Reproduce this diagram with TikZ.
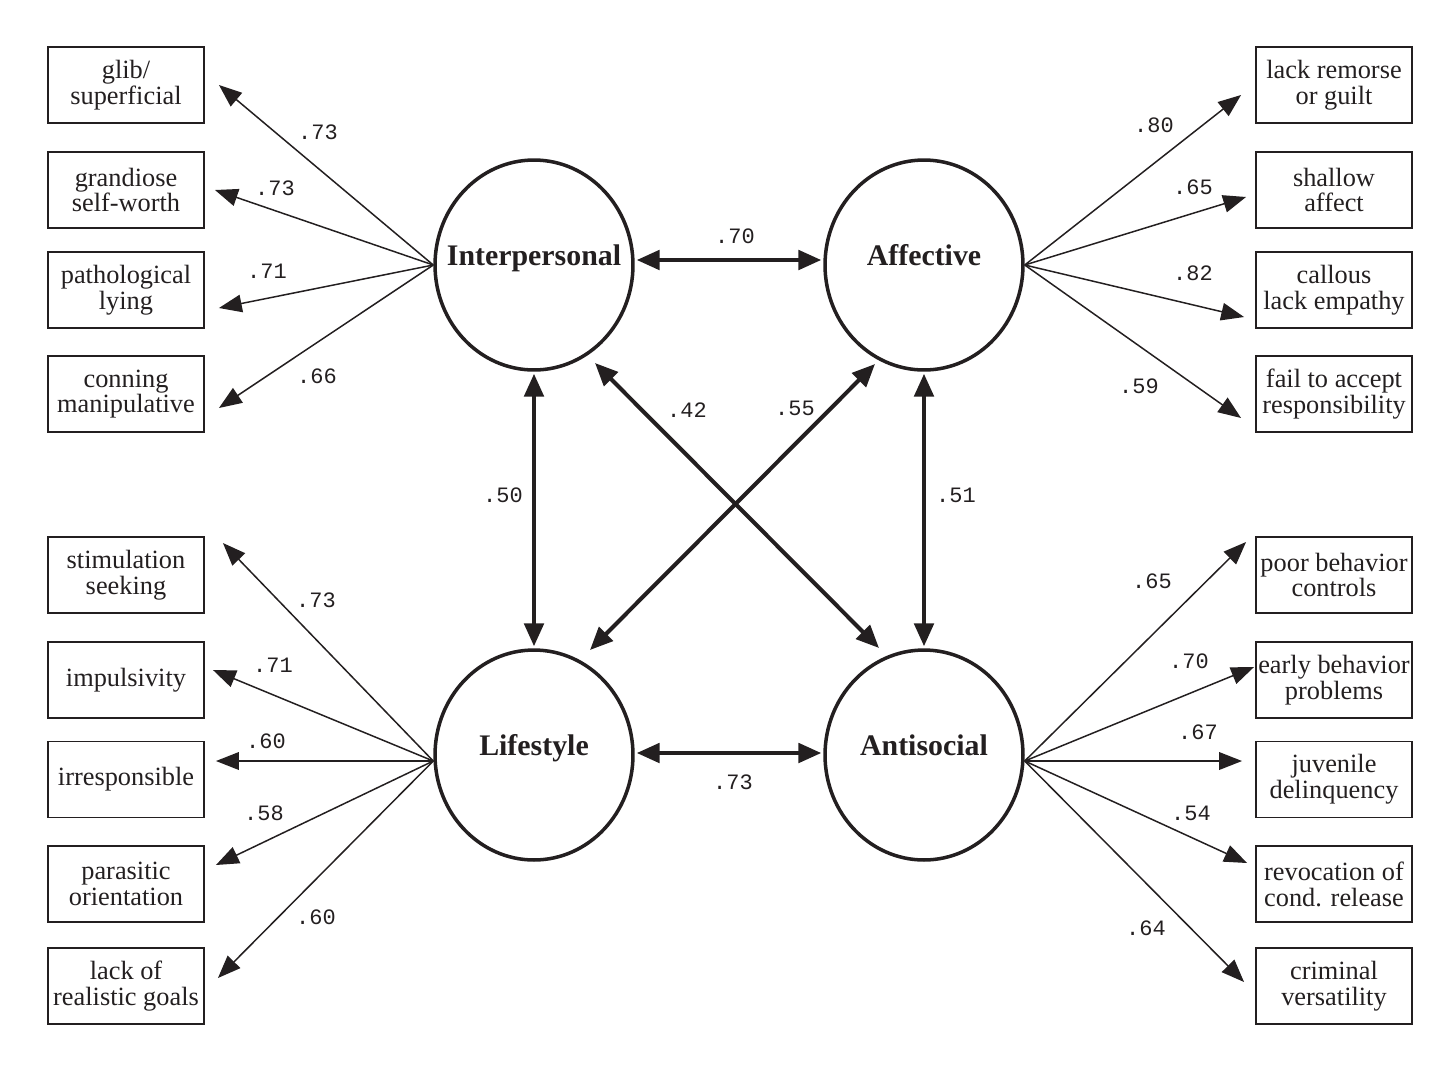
\documentclass[tikz,border=0pt]{standalone}
\usepackage{fontspec}
\setmainfont{Liberation Serif}
\newfontfamily\numfont{Liberation Mono}
\usetikzlibrary{arrows.meta,calc,shapes.geometric}
\definecolor{ink}{RGB}{35,31,32}
\begin{document}
\begin{tikzpicture}[x=0.02cm,y=-0.02cm,
  item/.style={draw=ink, line width=1.1pt, minimum width=3.12cm, minimum height=1.52cm, inner sep=0pt, align=center, font=\fontsize{15}{14.7}\selectfont, text=ink},
  factor/.style={ellipse, draw=ink, line width=2pt, minimum width=3.96cm, minimum height=4.2cm, inner sep=0pt},
  ftext/.style={font=\fontsize{17}{20}\selectfont\bfseries, text=ink, inner sep=0pt, anchor=base},
  load/.style={draw=ink, line width=0.85pt, -{Triangle[length=13pt,width=10pt]}},
  corr/.style={draw=ink, line width=2.3pt, {Triangle[length=13pt,width=11pt]}-{Triangle[length=13pt,width=11pt]}},
  coef/.style={font=\numfont\fontsize{12.5}{14}\selectfont, text=ink, inner sep=0pt}
]
\useasboundingbox (0,0) rectangle (1450,1086);

% factors
\node[factor] (I) at (534,265) {};
\node[factor] (A) at (924,265) {};
\node[factor] (L) at (534,755) {};
\node[factor] (S) at (924,755) {};
\node[ftext] (It) at (I.center) {Interpersonal};
\node[ftext] (At) at (A.center) {Affective};
\node[ftext] (Lt) at (L.center) {Lifestyle};
\node[ftext] (St) at (S.center) {Antisocial};

% left items
\node[item] (l1) at (126,85)  {glib/\\superficial};
\node[item] (l2) at (126,190) {grandiose\\self-worth};
\node[item] (l3) at (126,290) {pathological\\lying};
\node[item] (l4) at (126,394) {conning\\manipulative};
\node[item] (l5) at (126,575) {stimulation\\seeking};
\node[item] (l6) at (126,680) {impulsivity};
\node[item] (l7) at (126,779.5) {irresponsible};
\node[item] (l8) at (126,884) {parasitic\\orientation};
\node[item] (l9) at (126,986) {lack of\\realistic goals};

% right items
\node[item] (r1) at (1334,85)  {lack remorse\\or guilt};
\node[item] (r2) at (1334,190) {shallow\\affect};
\node[item] (r3) at (1334,290) {callous\\lack empathy};
\node[item] (r4) at (1334,394) {fail to accept\\responsibility};
\node[item] (r5) at (1334,575) {poor behavior\\controls};
\node[item] (r6) at (1334,680) {early behavior\\problems};
\node[item] (r7) at (1334,779.5) {juvenile\\delinquency};
\node[item] (r8) at (1334,884) {revocation of\\cond. release};
\node[item] (r9) at (1334,986) {criminal\\versatility};

% loadings: Interpersonal
\draw[load] (I.west) -- ($(l1.east)+(14,0)$);
\draw[load] (I.west) -- ($(l2.east)+(10,0)$);
\draw[load] (I.west) -- ($(l3.east)+(14,18)$);
\draw[load] (I.west) -- ($(l4.east)+(14,14)$);
% Affective
\draw[load] (A.east) -- ($(r1.west)+(-14,10)$);
\draw[load] (A.east) -- ($(r2.west)+(-9,7)$);
\draw[load] (A.east) -- ($(r3.west)+(-11,27)$);
\draw[load] (A.east) -- ($(r4.west)+(-14,24)$);
% Lifestyle
\draw[load] ($(L.west)+(0,6)$) -- ($(l5.east)+(18,-32)$);
\draw[load] ($(L.west)+(0,6)$) -- ($(l6.east)+(8,-10)$);
\draw[load] ($(L.west)+(0,6)$) -- ($(l7.east)+(11,-18.5)$);
\draw[load] ($(L.west)+(0,6)$) -- ($(l8.east)+(11,-19)$);
\draw[load] ($(L.west)+(0,6)$) -- ($(l9.east)+(13,-8)$);
% Antisocial
\draw[load] ($(S.east)+(0,6)$) -- ($(r5.west)+(-9,-33)$);
\draw[load] ($(S.east)+(0,6)$) -- ($(r6.west)+(-1,-13)$);
\draw[load] ($(S.east)+(0,6)$) -- ($(r7.west)+(-13,-18.5)$);
\draw[load] ($(S.east)+(0,6)$) -- ($(r8.west)+(-8,-21)$);
\draw[load] ($(S.east)+(0,6)$) -- ($(r9.west)+(-11,-4)$);

% correlations
\draw[corr] ($(I.east)+(2,-5)$) -- ($(A.west)+(-2,-5)$);
\draw[corr] ($(L.east)+(2,-2)$) -- ($(S.west)+(-2,-2)$);
\draw[corr] ($(I.south)+(0,2)$) -- ($(L.north)+(0,-2)$);
\draw[corr] ($(A.south)+(0,2)$) -- ($(S.north)+(0,-2)$);
\draw[corr] ($(I)+(61,98)$) -- ($(S)+(-45,-107)$);
\draw[corr] ($(L)+(56,-105)$) -- ($(A)+(-49,99)$);

% coefficients
\node[coef] (c1) at (318,132) {.73};
\node[coef] (c2) at (275,188) {.73};
\node[coef] (c3) at (267,271) {.71};
\node[coef] (c4) at (317,376) {.66};
\node[coef] (c5) at (1154,125) {.80};
\node[coef] (c6) at (1193,187) {.65};
\node[coef] (c7) at (1193,273) {.82};
\node[coef] (c8) at (1139,386) {.59};
\node[coef] (c9) at (316,600) {.73};
\node[coef] (c10) at (273,665) {.71};
\node[coef] (c11) at (266,741) {.60};
\node[coef] (c12) at (264,813) {.58};
\node[coef] (c13) at (316,917) {.60};
\node[coef] (c14) at (1152,581) {.65};
\node[coef] (c15) at (1189,661) {.70};
\node[coef] (c16) at (1198,732) {.67};
\node[coef] (c17) at (1191,813) {.54};
\node[coef] (c18) at (1146,928) {.64};
\node[coef] (c19) at (735,236) {.70};
\node[coef] (c20) at (733,782) {.73};
\node[coef] (c21) at (503,495) {.50};
\node[coef] (c22) at (956,495) {.51};
\node[coef] (c23) at (687,410) {.42};
\node[coef] (c24) at (795,408) {.55};
\end{tikzpicture}
\end{document}
